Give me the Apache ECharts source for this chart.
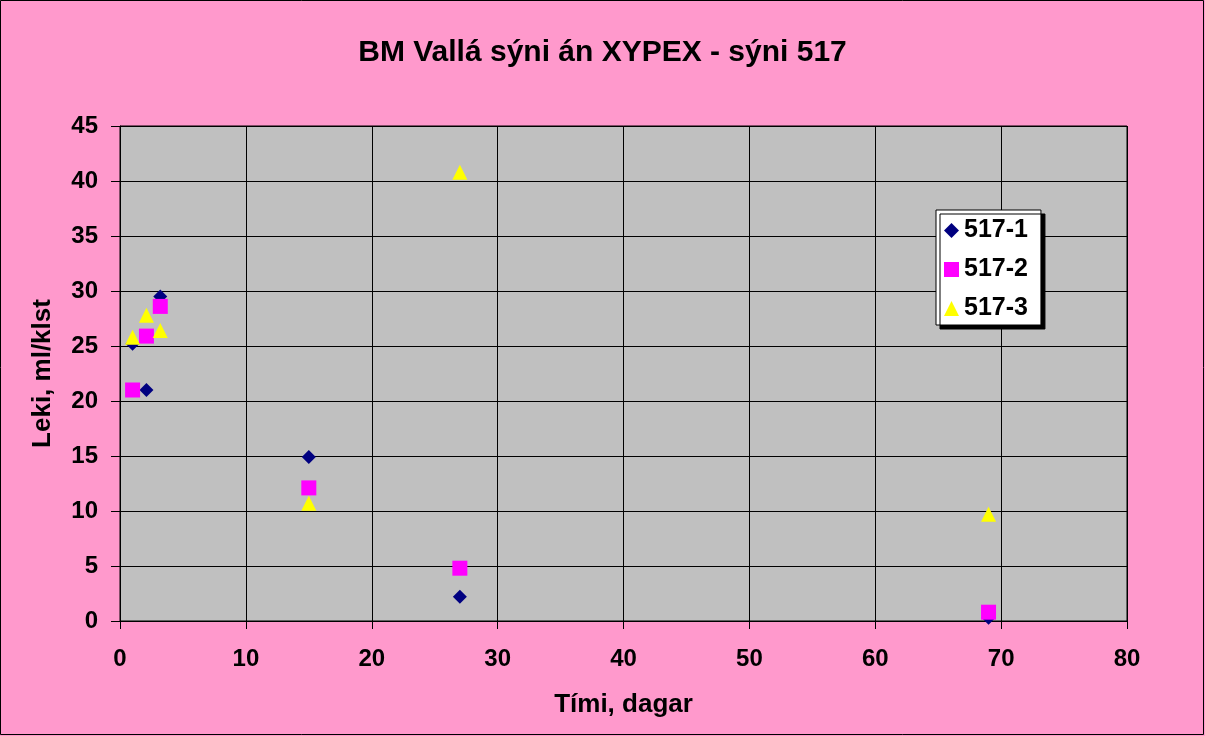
<!DOCTYPE html>
<html>
<head>
<meta charset="utf-8">
<script src="https://cdn.jsdelivr.net/npm/echarts@6/dist/echarts.min.js"></script>
<style>
html, body { margin: 0; padding: 0; background: #FF99CC; }
#chart { width: 1205px; height: 736px; }
</style>
</head>
<body>
<div id="chart"></div>
<script>
var days = [1, 2.1, 3.2, 15, 27, 69];
var leak1 = [25.2, 21.0, 29.5, 14.9, 2.2, 0.3];
var leak2 = [21.0, 25.9, 28.6, 12.1, 4.8, 0.8];
var leak3 = [25.8, 27.8, 26.4, 10.7, 40.8, 9.7];
var seriesNames = ['517-1', '517-2', '517-3'];

function pairs(xs, ys) {
    return xs.map(function (x, i) { return [x, ys[i]]; });
}

var font = 'Liberation Sans, Arial, sans-serif';

var myChart = echarts.init(document.getElementById('chart'));
var option = {
    backgroundColor: '#FF99CC',
    animation: false,
    title: {
        text: 'BM Vallá sýni án XYPEX - sýni 517',
        left: 'center',
        top: 33,
        textStyle: { fontFamily: font, fontSize: 30, fontWeight: 'bold', color: '#000' }
    },
    legend: {
        orient: 'vertical',
        left: 936,
        top: 210,
        padding: [8, 13, 4, 8],
        itemGap: 14,
        itemWidth: 15,
        itemHeight: 15,
        backgroundColor: '#fff',
        borderColor: '#000',
        borderWidth: 1,
        shadowColor: '#000',
        shadowOffsetX: 4,
        shadowOffsetY: 4,
        shadowBlur: 0,
        textStyle: { fontFamily: font, fontSize: 25, lineHeight: 24, fontWeight: 'bold', color: '#000' },
        data: seriesNames
    },
    grid: {
        left: 120,
        right: 78,
        top: 126,
        bottom: 115,
        show: true,
        backgroundColor: '#C0C0C0',
        borderColor: '#000',
        borderWidth: 1
    },
    xAxis: {
        type: 'value',
        min: 0,
        max: 80,
        interval: 10,
        name: 'Tími, dagar',
        nameLocation: 'middle',
        nameGap: 71,
        nameTextStyle: { fontFamily: font, fontSize: 26, fontWeight: 'bold', color: '#000' },
        axisLine: { lineStyle: { color: '#000' } },
        axisTick: { show: true, length: 8, lineStyle: { color: '#000' } },
        axisLabel: { fontFamily: font, fontSize: 24, fontWeight: 'bold', color: '#000', margin: 26 },
        splitLine: { show: true, lineStyle: { color: '#000', width: 1 } }
    },
    yAxis: {
        type: 'value',
        min: 0,
        max: 45,
        interval: 5,
        name: 'Leki, ml/klst',
        nameLocation: 'middle',
        nameGap: 64,
        nameTextStyle: { fontFamily: font, fontSize: 26, fontWeight: 'bold', color: '#000' },
        axisLine: { show: true, lineStyle: { color: '#000' } },
        axisTick: { show: true, length: 9, lineStyle: { color: '#000' } },
        axisLabel: { fontFamily: font, fontSize: 24, fontWeight: 'bold', color: '#000', margin: 22 },
        splitLine: { show: true, lineStyle: { color: '#000', width: 1 } }
    },
    series: [{
        name: seriesNames[0],
        type: 'scatter',
        symbol: 'diamond',
        symbolSize: 14,
        itemStyle: { color: '#000080', opacity: 1 },
        data: pairs(days, leak1)
    }, {
        name: seriesNames[1],
        type: 'scatter',
        symbol: 'rect',
        symbolSize: 15,
        itemStyle: { color: '#FF00FF', opacity: 1 },
        data: pairs(days, leak2)
    }, {
        name: seriesNames[2],
        type: 'scatter',
        symbol: 'triangle',
        symbolSize: 15,
        itemStyle: { color: '#FFFF00', opacity: 1 },
        data: pairs(days, leak3)
    }],
    graphic: [{
        type: 'rect',
        shape: { x: 0.5, y: 0.5, width: 1203, height: 734 },
        style: { fill: null, stroke: '#000', lineWidth: 1 },
        silent: true
    }]
};
myChart.setOption(option);
</script>
</body>
</html>
